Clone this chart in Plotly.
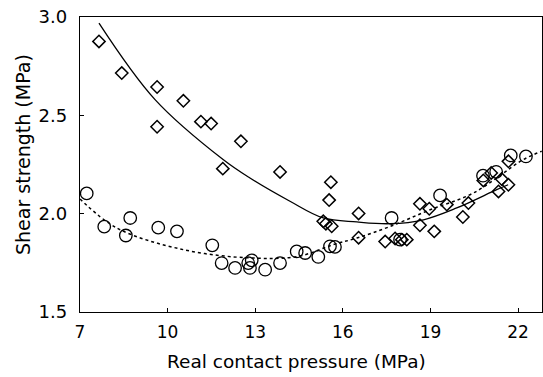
import plotly.graph_objects as go

# Diamond series (open diamonds) and their solid fitted curve
diamond_x = [7.65, 8.43, 9.64, 9.64, 10.54, 11.14, 11.49, 12.51, 11.89, 13.85,
             15.59, 15.53, 15.33, 15.42, 15.62, 16.54, 16.54, 17.45, 17.79, 18.02,
             18.19, 18.64, 18.96, 19.56, 18.64, 19.13, 20.11, 20.30, 20.81, 21.08,
             21.44, 21.67, 21.33, 21.67]
diamond_y = [2.876, 2.715, 2.644, 2.442, 2.574, 2.468, 2.458, 2.368, 2.229, 2.212,
             2.160, 2.069, 1.961, 1.949, 1.936, 2.001, 1.878, 1.858, 1.874, 1.868,
             1.868, 2.050, 2.025, 2.046, 1.941, 1.910, 1.983, 2.054, 2.169, 2.207,
             2.176, 2.147, 2.113, 2.266]

solid_x = [7.65, 9.57, 11.90, 12.82, 14.19, 15.33, 16.48, 17.62, 18.76, 19.90, 21.27, 21.66]
solid_y = [2.969, 2.580, 2.275, 2.181, 2.063, 1.978, 1.958, 1.949, 1.969, 2.029, 2.122, 2.147]

# Circle series (open circles) and their dotted fitted curve
circle_x = [7.23, 7.83, 8.57, 8.72, 9.68, 10.32, 11.53, 11.85, 12.31, 12.76,
            12.88, 12.82, 13.34, 13.85, 14.42, 14.71, 15.16, 15.56, 15.73, 17.67,
            17.96, 19.33, 20.80, 21.25, 21.75, 22.27]
circle_y = [2.103, 1.934, 1.889, 1.978, 1.929, 1.910, 1.839, 1.749, 1.724, 1.749,
            1.763, 1.724, 1.715, 1.749, 1.808, 1.800, 1.780, 1.834, 1.831, 1.978,
            1.868, 2.093, 2.193, 2.213, 2.296, 2.291]

dotted_x = [7.0, 8.26, 10.54, 12.82, 14.47, 15.66, 16.48, 17.62, 18.99, 20.47, 22.18, 22.81]
dotted_y = [2.075, 1.927, 1.817, 1.775, 1.783, 1.842, 1.876, 1.935, 2.020, 2.105, 2.275, 2.317]

x_ticks = [7, 10, 13, 16, 19, 22]
y_ticks = [1.5, 2.0, 2.5, 3.0]

FONT = "DejaVu Sans"

fig = go.Figure()
fig.add_trace(go.Scatter(x=solid_x, y=solid_y, mode="lines",
                         line=dict(color="black", width=1.3, shape="spline"),
                         showlegend=False, hoverinfo="skip"))
fig.add_trace(go.Scatter(x=dotted_x, y=dotted_y, mode="lines",
                         line=dict(color="black", width=1.5, dash="dot", shape="spline"),
                         showlegend=False, hoverinfo="skip"))
fig.add_trace(go.Scatter(x=diamond_x, y=diamond_y, mode="markers",
                         marker=dict(symbol="diamond-open", size=9.5,
                                     color="black", line=dict(width=1.5, color="black")),
                         showlegend=False))
fig.add_trace(go.Scatter(x=circle_x, y=circle_y, mode="markers",
                         marker=dict(symbol="circle-open", size=12.5,
                                     color="black", line=dict(width=1.3, color="black")),
                         showlegend=False))

fig.update_layout(
    width=543, height=377,
    margin=dict(l=80, r=1, t=17, b=65),
    paper_bgcolor="white", plot_bgcolor="white",
    font=dict(family=FONT, size=17, color="black"),
    annotations=[
        dict(text="Real contact pressure (MPa)", xref="paper", yref="paper",
             x=(296 - 80) / 462, y=(312 - 361) / 295, xanchor="center", yanchor="middle",
             showarrow=False, font=dict(family=FONT, size=18.5, color="black")),
        dict(text="Shear strength (MPa)", xref="paper", yref="paper",
             x=(23 - 80) / 462, y=(312 - 155) / 295, xanchor="center", yanchor="middle",
             textangle=-90, showarrow=False, font=dict(family=FONT, size=19, color="black")),
    ],
)
fig.update_xaxes(
    range=[7, 22.82], tickvals=x_ticks, ticktext=[str(v) for v in x_ticks],
    ticks="inside", ticklen=4, tickcolor="black", showgrid=False, zeroline=False,
    showline=True, linecolor="black", linewidth=1.3, mirror=True,
    tickfont=dict(size=17), ticklabelstandoff=4,
)
fig.update_yaxes(
    range=[1.5, 3.0], tickvals=y_ticks, ticktext=[f"{v:.1f}" for v in y_ticks],
    ticks="inside", ticklen=4, tickcolor="black", showgrid=False, zeroline=False,
    showline=True, linecolor="black", linewidth=1.3, mirror=True,
    tickfont=dict(size=18), ticklabelstandoff=8,
)

fig.write_html("out.html",
               config={"displayModeBar": False},
               post_script="document.body.style.margin='0';document.body.style.padding='0';")
